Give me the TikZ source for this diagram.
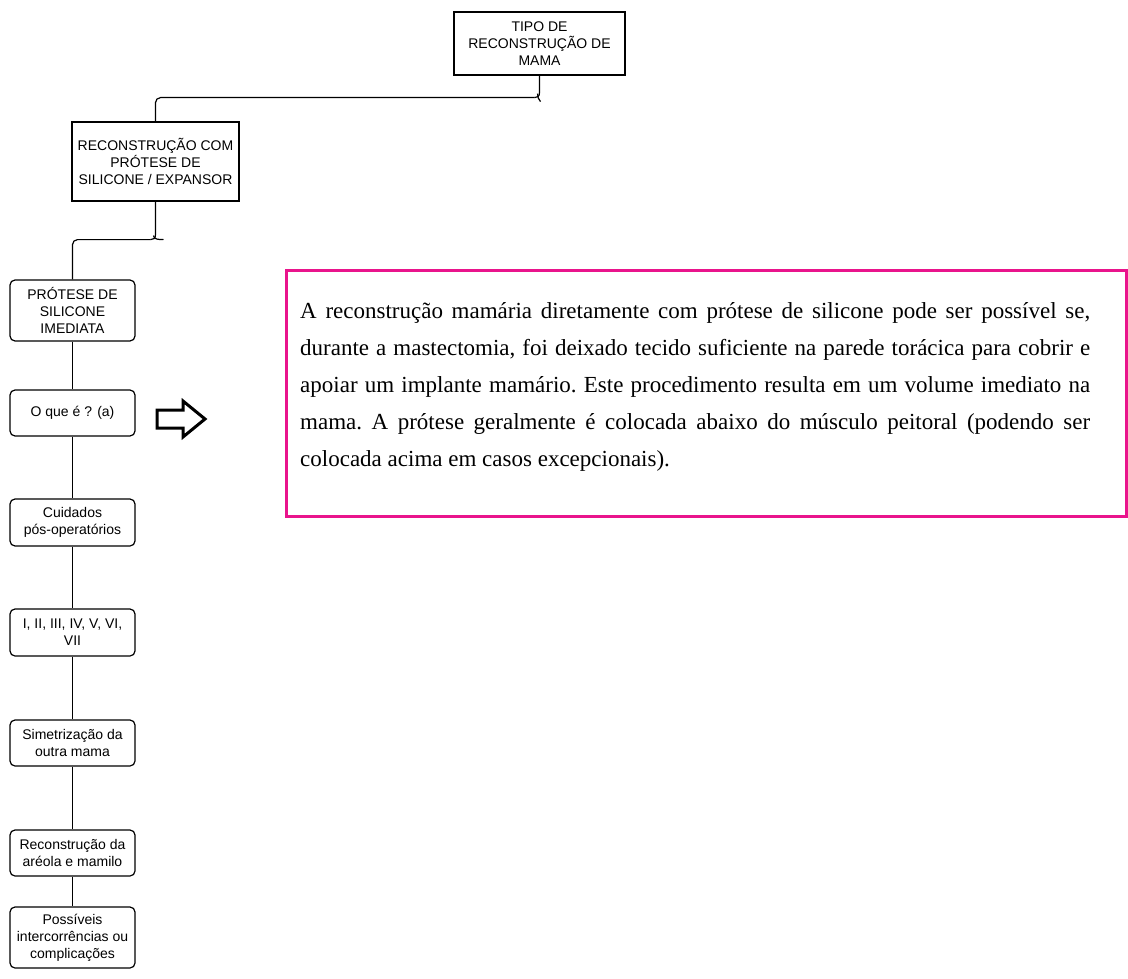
\documentclass[tikz,border=0pt]{standalone}
\usepackage{fontspec}
\setmainfont{Liberation Serif}
\newfontfamily\boxfont{Liberation Sans}
\definecolor{mlpink}{RGB}{233,20,140}
\usetikzlibrary{calc}

\begin{document}
\begin{tikzpicture}[
  x=1pt,y=-1pt,
  sqbox/.style={draw,line width=1.2pt,align=center,inner sep=2pt,
    font=\boxfont\fontsize{14}{17}\selectfont},
  stepbox/.style={sqbox,rounded corners=5pt,minimum width=125pt},
  conn/.style={line width=1.2pt},
  textcard/.style={draw=mlpink,line width=3pt,minimum width=840pt,minimum height=246pt}
]
  \useasboundingbox (0,0) rectangle (1128,979);
  % Top of the tree
  \node[sqbox,minimum width=171pt,minimum height=63pt] (tipo) at (539.5,43.5)
    {TIPO DE\\RECONSTRUÇÃO DE\\MAMA};
  \node[sqbox,minimum width=167pt,minimum height=79pt] (reco) at (155.5,161.5)
    {RECONSTRUÇÃO COM\\PRÓTESE DE\\SILICONE / EXPANSOR};
  % Column of steps
  \node[stepbox,minimum height=61pt] (imed) at (72.5,310.5) {PRÓTESE DE\\SILICONE\\IMEDIATA};
  \node[stepbox,minimum height=46pt] (oque) at (72.5,413) {O que é ? (a)};
  \node[stepbox,minimum height=47pt] (cuid) at (72.5,522.5) {Cuidados\\pós-operatórios};
  \node[stepbox,minimum height=47pt] (roman) at (72.5,632.5) {I, II, III, IV, V, VI,\\VII};
  \node[stepbox,minimum height=46pt] (simet) at (72.5,743) {Simetrização da\\outra mama};
  \node[stepbox,minimum height=46pt] (areola) at (72.5,853) {Reconstrução da\\aréola e mamilo};
  \node[stepbox,minimum height=61pt] (compl) at (72.5,937.5) {Possíveis\\intercorrências ou\\complicações};

  % Braces
  \coordinate (b1) at ($(tipo.south)+(-2,22)$);
  \draw[conn] (tipo.south) -- ++(0,17) .. controls +(0,4) and +(3,0) .. ($(b1)+(-3,0)$);
  \draw[conn,rounded corners=5pt] ($(b1)+(-3,0)$) -| (reco.north);
  \draw[conn] ($(b1)+(0,-4)$) .. controls +(0,3) and +(-2,-2) .. ++(3,8);
  \coordinate (b2) at ($(reco.south)+(-2,38)$);
  \draw[conn] (reco.south) -- ++(0,33) .. controls +(0,4) and +(3,0) .. ($(b2)+(-3,0)$);
  \draw[conn,rounded corners=5pt] ($(b2)+(-3,0)$) -| (imed.north);
  \draw[conn] ($(b2)+(0,-4)$) .. controls +(0,4) and +(-4,0) .. ++(10,4);

  % Steps
  \draw[conn] (imed) -- (oque);
  \draw[conn] (oque) -- (cuid);
  \draw[conn] (cuid) -- (roman);
  \draw[conn] (roman) -- (simet);
  \draw[conn] (simet) -- (areola);
  \draw[conn] (areola) -- (compl);

  % Arrow and text
  \draw[line width=3pt,line join=miter] (157,410) -- (183,410) -- (183,401) -- (205,419)
    -- (183,437) -- (183,428) -- (157,428) -- cycle;
  \node[textcard] (card) at (706,393) {};
  \node[anchor=north west,inner sep=0pt,text width=790pt,align=justify,
    font=\fontsize{23}{37}\selectfont\frenchspacing] (txt) at (300,302) {%
    A reconstrução mamária diretamente com prótese de silicone pode ser possível se,\linebreak
    durante a mastectomia, foi deixado tecido suficiente na parede torácica para cobrir e\linebreak
    apoiar um implante mamário. Este procedimento resulta em um volume imediato na\linebreak
    mama. A prótese geralmente é colocada abaixo do músculo peitoral (podendo ser\linebreak
    colocada acima em casos excepcionais).};
\end{tikzpicture}
\end{document}
